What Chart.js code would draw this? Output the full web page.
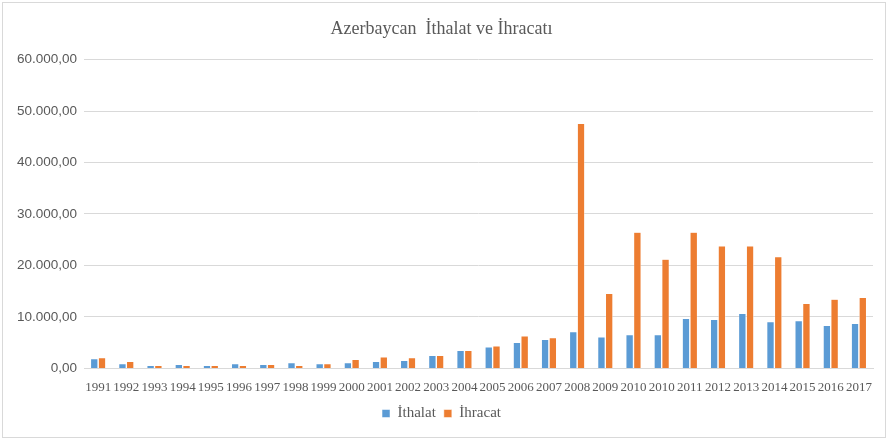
<!DOCTYPE html>
<html>
<head>
<meta charset="utf-8">
<script src="https://cdn.jsdelivr.net/npm/chart.js@4"></script>
<style>
  body { margin: 0; background: #fff; }
  #box {
    position: absolute; left: 2px; top: 2px;
    width: 882px; height: 434px;
    border: 1px solid #d9d9d9; background: #fff;
  }
</style>
</head>
<body>
<div id="box"><canvas id="c"></canvas></div>
<script>
// years (2010 appears twice in the source table)
const years = ['1991','1992','1993','1994','1995','1996','1997','1998','1999','2000',
  '2001','2002','2003','2004','2005','2006','2007','2008','2009','2010','2010',
  '2011','2012','2013','2014','2015','2016','2017'];
const ithalat = [1880, 900, 580, 780, 580, 900, 780, 1100, 900, 1100,
  1360, 1550, 2520, 3500, 4140, 5050, 5630, 7100, 6080, 6530, 6530,
  9690, 9500, 10660, 9050, 9240, 8330, 8720];
const ihracat = [2070, 1360, 580, 580, 580, 580, 780, 580, 900, 1750,
  2200, 2070, 2520, 3500, 4340, 6280, 5950, 47560, 14530, 26430, 21200,
  26430, 23780, 23780, 21700, 12600, 13450, 13760];
const yTicks = [0, 10000, 20000, 30000, 40000, 50000, 60000];

// turkish style number: 60.000,00
function fmt(v) {
  let s = String(Math.round(v)).replace(/\B(?=(\d{3})+(?!\d))/g, '.');
  return s + ',00';
}

const serif = "'Liberation Serif', 'Times New Roman', serif";

new Chart(document.getElementById('c'), {
  type: 'bar',
  data: {
    labels: years,
    datasets: [
      { label: 'İthalat', data: ithalat, backgroundColor: '#5b9bd5', borderColor: '#ffffff', borderWidth: 0.5 },
      { label: 'İhracat', data: ihracat, backgroundColor: '#ed7d31', borderColor: '#ffffff', borderWidth: 0.5 }
    ]
  },
  options: {
    responsive: true,
    maintainAspectRatio: false,
    animation: false,
    layout: { padding: { left: 7, right: 12, top: 6, bottom: 6 } },
    datasets: { bar: { categoryPercentage: 0.55, barPercentage: 0.95 } },
    plugins: {
      title: {
        display: true,
        text: 'Azerbaycan  İthalat ve İhracatı',
        color: '#595959',
        font: { family: serif, size: 18, weight: 'normal' },
        padding: { top: 9, bottom: 20 }
      },
      legend: {
        position: 'bottom',
        labels: {
          color: '#595959',
          font: { family: serif, size: 15 },
          boxWidth: 8, boxHeight: 8,
          padding: 8
        }
      },
      tooltip: { enabled: false }
    },
    scales: {
      x: {
        grid: { display: false },
        border: { color: '#d9d9d9' },
        ticks: { color: '#595959', font: { family: serif, size: 13 }, maxRotation: 0, autoSkip: false, padding: 3 }
      },
      y: {
        min: 0, max: 60000,
        afterBuildTicks: axis => { axis.ticks = yTicks.map(v => ({ value: v })); },
        grid: { color: '#d9d9d9', drawTicks: false },
        border: { display: false },
        ticks: { color: '#595959', font: { family: "'Liberation Sans', Arial, sans-serif", size: 13.5 }, padding: 7, callback: v => fmt(v) }
      }
    }
  }
});
</script>
</body>
</html>
